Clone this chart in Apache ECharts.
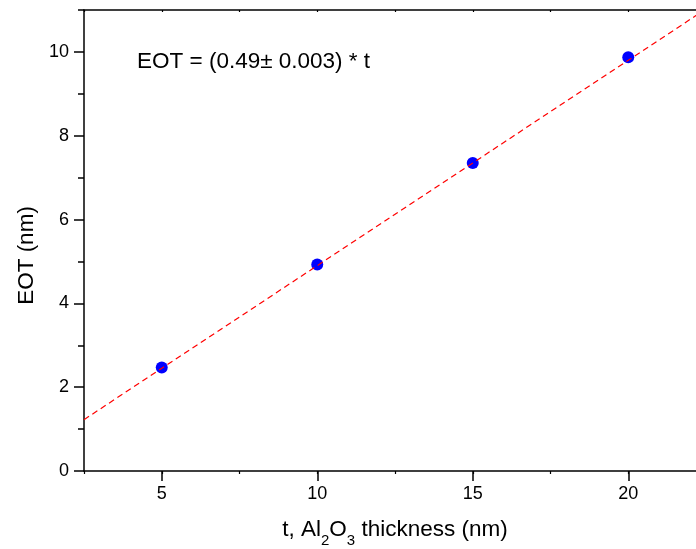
<!DOCTYPE html>
<html>
<head>
<meta charset="utf-8">
<script src="https://cdn.jsdelivr.net/npm/echarts@6/dist/echarts.min.js"></script>
<style>html,body{margin:0;padding:0;background:#fff}#c{width:696px;height:549px}</style>
</head>
<body>
<div id="c"></div>
<script>
// Data
var thickness = [5, 10, 15, 20];
var eot = [2.47, 4.93, 7.35, 9.87];
var fitX = [2.5, 22.5];
var fitY = [1.225, 11.025];
var xMajorTicks = [5, 10, 15, 20];
var yMajorTicks = [0, 2, 4, 6, 8, 10];
var equationText = 'EOT = (0.49\u00b1 0.003) * t';

var FONT = 'Liberation Sans, Arial, sans-serif';
var chart = echarts.init(document.getElementById('c'), null, {renderer: 'canvas'});

var axisLine = {show: true, lineStyle: {color: '#000', width: 1.5}};
var option = {
  animation: false,
  backgroundColor: '#fff',
  grid: {left: 84, top: 10, width: 622, height: 461, containLabel: false, outerBoundsMode: 'none'},
  xAxis: [
    {
      type: 'value', position: 'bottom', min: 2.5, max: 22.5, interval: 2.5,
      axisLine: axisLine,
      axisTick: {show: true, length: 3, lineStyle: {color: '#000', width: 1.2}},
      axisLabel: {
        color: '#000', fontSize: 18, fontFamily: FONT, margin: 14,
        formatter: function (v) { return xMajorTicks.indexOf(v) >= 0 ? String(v) : ''; }
      },
      splitLine: {show: false},
      name: '{a|t, Al}{s|2}{a|O}{s|3}{a| thickness (nm)}',
      nameLocation: 'middle', nameGap: 41,
      nameTextStyle: {
        fontFamily: FONT, color: '#000',
        rich: {
          a: {fontSize: 22.5, fontFamily: FONT, color: '#000', lineHeight: 36, verticalAlign: 'middle'},
          s: {fontSize: 15, fontFamily: FONT, color: '#000', lineHeight: 15, verticalAlign: 'bottom'}
        }
      }
    },
    {
      type: 'value', position: 'bottom', min: 2.5, max: 22.5,
      axisLine: {show: false},
      axisTick: {show: true, length: 10, customValues: xMajorTicks, lineStyle: {color: '#000', width: 1.5}},
      axisLabel: {show: false},
      splitLine: {show: false}
    },
    {
      type: 'value', position: 'top', min: 2.5, max: 22.5, interval: 2.5,
      axisLine: axisLine,
      axisTick: {show: true, length: 2, inside: true, lineStyle: {color: '#000', width: 1.2}},
      axisLabel: {show: false},
      splitLine: {show: false}
    }
  ],
  yAxis: [
    {
      type: 'value', position: 'left', min: 0, max: 11, interval: 1,
      axisLine: axisLine,
      axisTick: {show: true, length: 6, lineStyle: {color: '#000', width: 1.5}},
      axisLabel: {
        color: '#000', fontSize: 18, fontFamily: FONT, margin: 15,
        formatter: function (v) { return yMajorTicks.indexOf(v) >= 0 ? String(v) : ''; }
      },
      splitLine: {show: false},
      name: 'EOT (nm)', nameLocation: 'middle', nameGap: 45,
      nameTextStyle: {fontSize: 22.5, fontFamily: FONT, color: '#000', padding: [0, 30, 0, 0]}
    },
    {
      type: 'value', position: 'left', offset: 0, min: 0, max: 11,
      axisLine: {show: false},
      axisTick: {show: true, length: 10, customValues: yMajorTicks, lineStyle: {color: '#000', width: 1.5}},
      axisLabel: {show: false},
      splitLine: {show: false}
    }
  ],
  series: [
    {
      type: 'scatter', xAxisIndex: 0, yAxisIndex: 0,
      data: thickness.map(function (t, i) { return [t, eot[i]]; }),
      symbol: 'circle', symbolSize: 12,
      itemStyle: {color: '#0000ff', opacity: 1}, z: 2
    },
    {
      type: 'line', xAxisIndex: 0, yAxisIndex: 0,
      data: fitX.map(function (x, i) { return [x, fitY[i]]; }),
      showSymbol: false, symbol: 'none', clip: true,
      lineStyle: {color: '#ff0000', width: 1.2, type: [6, 4]}, z: 3
    }
  ],
  graphic: [
    {
      type: 'text', left: 137, top: 50,
      style: {text: equationText, fontSize: 22.5, fontFamily: FONT, fill: '#000'}
    }
  ]
};
chart.setOption(option);
</script>
</body>
</html>
